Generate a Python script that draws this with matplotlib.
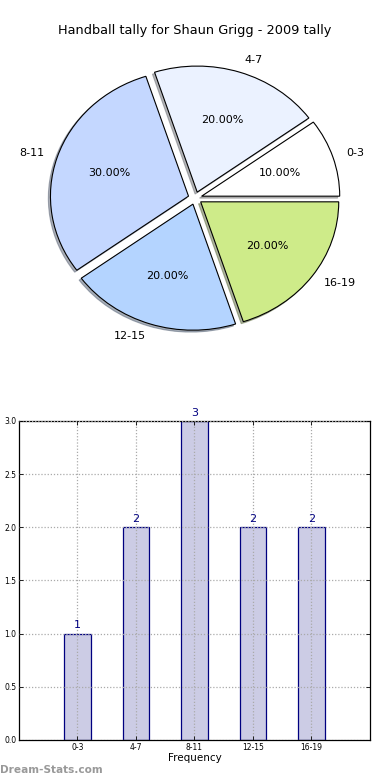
import matplotlib
matplotlib.use("Agg")
import matplotlib.pyplot as plt

categories = ["0-3", "4-7", "8-11", "12-15", "16-19"]
values = [1, 2, 3, 2, 2]
pie_colors = ["#FFFFFF", "#EBF2FF", "#C4D7FF", "#B4D4FF", "#CEEB89"]
title = "Handball tally for Shaun Grigg - 2009 tally"
yticks = [0.0, 0.5, 1.0, 1.5, 2.0, 2.5, 3.0]

fig = plt.figure(figsize=(3.9, 7.8), dpi=100)

# Pie
axp = fig.add_axes([0.0577, 0.544, 0.885, 0.404])
wedges, texts, autotexts = axp.pie(
    values, labels=categories, colors=pie_colors, explode=[0.05] * 5,
    autopct="%.2f%%", shadow=dict(ox=-0.011, oy=-0.011, shade=0.55),
    startangle=0,
    wedgeprops=dict(edgecolor="black", linewidth=0.8),
    textprops=dict(fontsize=8))
axp.set_aspect("auto")
axp.set_xlim(-1.25, 1.25)
axp.set_ylim(-1.25, 1.25)
fig.text(0.5, 0.961, title, ha="center", va="center", fontsize=9.3)

# Bar
axb = fig.add_axes([0.0487, 0.0513, 0.9, 0.409])
x = list(range(len(categories)))
axb.bar(x, values, width=0.45, color="#CCCCE5", edgecolor="#000080", linewidth=0.9)
for xi, v in zip(x, values):
    axb.text(xi, v + 0.03, str(v), ha="center", va="bottom", fontsize=8, color="#000080")
axb.set_xlim(-1, 5)
axb.set_ylim(0, 3)
axb.set_xticks(x)
axb.set_xticklabels(categories, fontsize=5.5)
axb.set_yticks(yticks)
axb.set_yticklabels([f"{t:.1f}" for t in yticks], fontsize=5.5)
axb.set_xlabel("Frequency", fontsize=7.5, labelpad=1)
axb.grid(True, linestyle=(0, (1, 1.5)), color="#AAAAAA", linewidth=0.9)
axb.set_axisbelow(False)
axb.tick_params(direction="in", top=True, right=True, length=3, pad=2, width=0.6)
for s in axb.spines.values():
    s.set_linewidth(0.9)

fig.text(0.0, 0.013, "Dream-Stats.com", fontsize=7.6, color="#999999",
         fontweight="bold", ha="left", va="center")

fig.savefig("out.png", dpi=100)
